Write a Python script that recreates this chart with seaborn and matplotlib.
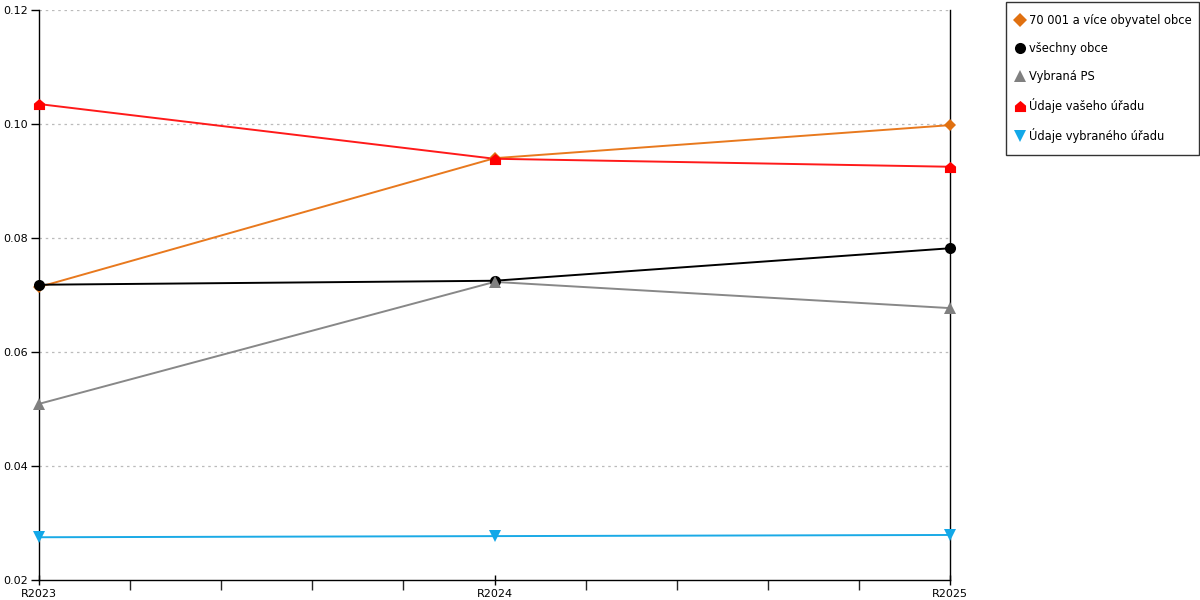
import numpy as np
import pandas as pd
import matplotlib
matplotlib.use("Agg")
import matplotlib.pyplot as plt
from matplotlib.lines import Line2D
from matplotlib.ticker import FixedLocator
import seaborn as sns

years = ["R2023", "R2024", "R2025"]
series_names = ["70 001 a více obyvatel obce", "všechny obce", "Vybraná PS",
                "Údaje vašeho úřadu", "Údaje vybraného úřadu"]
v_70001 = [0.0714, 0.0940, 0.0998]
v_vsechny = [0.0718, 0.0725, 0.0782]
v_ps = [0.0509, 0.0723, 0.0677]
v_vas = [0.1035, 0.0939, 0.0925]
v_vybrany = [0.0275, 0.0277, 0.0279]
y_ticks = [0.02, 0.04, 0.06, 0.08, 0.10, 0.12]

all_vals = [v_70001, v_vsechny, v_ps, v_vas, v_vybrany]
rows = []
for name, vals in zip(series_names, all_vals):
    for yr, v in zip(years, vals):
        rows.append({"rok": yr, "hodnota": v, "rada": name})
df = pd.DataFrame(rows)

line_colors = ["#E8791E", "#000000", "#888888", "#FF1A1A", "#1AAAE6"]
marker_colors = ["#E07010", "#000000", "#808080", "#FF0000", "#12A8E8"]
house = [(-1, -1), (1, -1), (1, 0.15), (0, 1), (-1, 0.15), (-1, -1)]
marker_list = ["D", "o", "^", house, "v"]
marker_sizes = [6, 8, 8, 8, 8]

sns.set_theme(style="white")
plt.rcParams["font.family"] = ["DejaVu Sans"]
plt.rcParams["text.color"] = "black"

fig = plt.figure(figsize=(12, 6), dpi=100)
ax = fig.add_axes([39 / 1200, 20 / 600, (950 - 39) / 1200, 570 / 600])

palette = dict(zip(series_names, line_colors))
sns.lineplot(data=df, x="rok", y="hodnota", hue="rada", hue_order=series_names,
             palette=palette, ax=ax, linewidth=1.4, legend=False, sort=False)

# markers drawn on top
for i, name in enumerate(series_names):
    sub = df[df["rada"] == name]
    xs = [years.index(r) for r in sub["rok"]]
    ax.plot(xs, sub["hodnota"].values, linestyle="none", marker=marker_list[i],
            markersize=marker_sizes[i], color=marker_colors[i],
            markeredgewidth=0, clip_on=False, zorder=5)

ax.set_xlim(0, 2)
ax.set_ylim(0.02, 0.12)
ax.set_xticks([0, 1, 2])
ax.set_xticklabels(years)
ax.xaxis.set_minor_locator(FixedLocator([0.2, 0.4, 0.6, 0.8, 1.2, 1.4, 1.6, 1.8]))
ax.set_yticks(y_ticks)
ax.set_yticklabels([f"{t:.2f}" for t in y_ticks])
ax.set_xlabel("")
ax.set_ylabel("")

ax.spines["top"].set_visible(False)
for s in ["left", "bottom", "right"]:
    ax.spines[s].set_visible(True)
    ax.spines[s].set_color("black")
    ax.spines[s].set_linewidth(1.0)

ax.tick_params(axis="both", which="major", labelsize=8, colors="black")
ax.tick_params(axis="y", which="major", direction="out", length=6, width=1, left=True, pad=2)
ax.tick_params(axis="x", which="major", direction="inout", length=7, width=1, bottom=True, pad=3)
ax.tick_params(axis="x", which="minor", direction="out", length=7, width=1, bottom=True)

for t in y_ticks[1:]:
    ax.axhline(t, color="#BBBBBB", linestyle=(0, (2, 3)), linewidth=0.9, zorder=0)

handles = [Line2D([], [], linestyle="none", marker=marker_list[i],
                  markersize=marker_sizes[i] + (1 if i == 0 else 0),
                  color=marker_colors[i], markeredgewidth=0)
           for i in range(len(series_names))]
leg = fig.legend(handles, series_names, loc="upper left", mode="expand",
                 bbox_to_anchor=(1006 / 1200, 0, 193 / 1200, 1 - 2 / 600), fontsize=8.3,
                 frameon=True, fancybox=False, shadow=False,
                 labelspacing=1.3, handlelength=0.3, handletextpad=0.62,
                 borderpad=1.05, borderaxespad=0)
leg.get_frame().set_edgecolor("black")
leg.get_frame().set_linewidth(1.0)
for txt in leg.get_texts():
    txt.set_color("black")

fig.savefig("out.png", dpi=100)
